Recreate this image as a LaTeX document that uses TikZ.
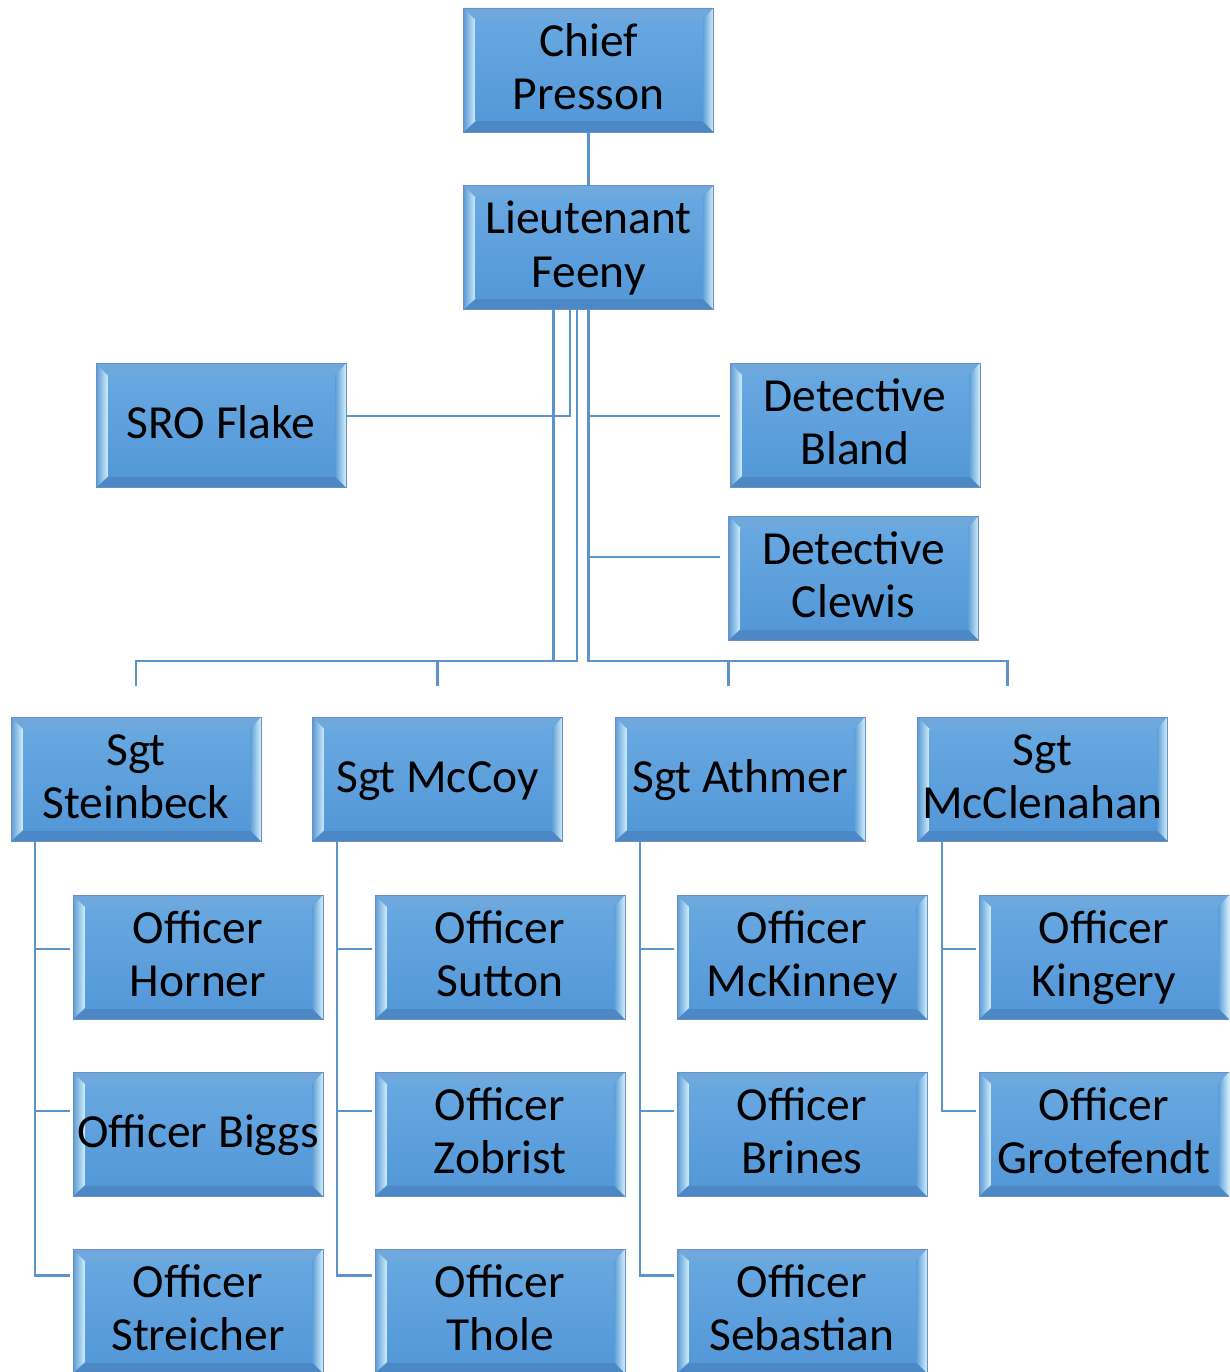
\documentclass[tikz,border=0pt]{standalone}
\usepackage{fontspec}
\setmainfont{Carlito}
\usetikzlibrary{calc}
\definecolor{bmid}{HTML}{5B9BD5}
\definecolor{btop}{HTML}{6FA8DD}
\definecolor{bbot}{HTML}{4C88C6}
\definecolor{bhi}{HTML}{D2EFFB}
\definecolor{bface1}{HTML}{68A8E1}
\definecolor{bface2}{HTML}{5498D8}
\definecolor{bline}{HTML}{6B8FC0}
\definecolor{conncol}{HTML}{5B93CD}
\newcommand\strA{\rule{0pt}{36pt}}
\newcommand\strB{\rule[-10pt]{0pt}{10pt}}
\tikzset{
 bev/.style={rectangle, minimum width=250pt, minimum height=124pt, inner sep=0pt, outer sep=0pt,
  fill=bmid, draw=bline, line width=0.9pt, align=center,
  font=\fontsize{47.5}{53}\selectfont, text=black,
  path picture={
   \coordinate (bvSW) at (path picture bounding box.south west);
   \coordinate (bvNE) at (path picture bounding box.north east);
   \coordinate (bvNW) at (bvSW |- bvNE);
   \coordinate (bvSE) at (bvNE |- bvSW);
   \coordinate (ivSW) at ($(bvSW)+(12pt,11pt)$);
   \coordinate (ivNE) at ($(bvNE)+(-11pt,-12pt)$);
   \coordinate (ivNW) at (ivSW |- ivNE);
   \coordinate (ivSE) at (ivNE |- ivSW);
   \fill[btop] (bvNW) -- (bvNE) -- (ivNE) -- (ivNW) -- cycle;
   \fill[bbot] (bvSW) -- (bvSE) -- (ivSE) -- (ivSW) -- cycle;
   \fill[left color=bmid, right color=bhi] (bvSW) -- (bvNW) -- (ivNW) -- (ivSW) -- cycle;
   \fill[left color=bmid, right color=bhi] (bvSE) -- (bvNE) -- (ivNE) -- (ivSE) -- cycle;
   \fill[top color=bface1, bottom color=bface2] (ivSW) rectangle (ivNE);
  }},
 conn/.style={draw=conncol, line width=2.8pt}
}
\begin{document}
\begin{tikzpicture}[x=1pt,y=-1pt]
\useasboundingbox (0,0) rectangle (1229,1372);
\clip (0,0) rectangle (1229,1372);
% top
\node[bev] (chief) at (588.5,70) {\strA Chief\\Presson\strB};
\node[bev] (lt) at (588.5,247.5) {\strA Lieutenant\\Feeny\strB};
\node[bev] (sro) at (221,425.5) {\strA SRO Flake\strB};
\node[bev] (bland) at (855,425) {\strA Detective\\Bland\strB};
\node[bev] (clewis) at (853.5,578) {\strA Detective\\Clewis\strB};
% sergeants
\node[bev] (sgtA) at (136,779) {\strA Sgt\\Steinbeck\strB};
\node[bev] (sgtB) at (437.5,779) {\strA Sgt McCoy\strB};
\node[bev] (sgtC) at (740,779) {\strA Sgt Athmer\strB};
\node[bev] (sgtD) at (1042.5,779) {\strA Sgt\\McClenahan\strB};
% officers
\node[bev] (horner) at (198,957) {\strA Officer\\Horner\strB};
\node[bev] (biggs) at (198,1134) {\strA Officer Biggs\strB};
\node[bev] (streicher) at (198,1311) {\strA Officer\\Streicher\strB};
\node[bev] (sutton) at (500,957) {\strA Officer\\Sutton\strB};
\node[bev] (zobrist) at (500,1134) {\strA Officer\\Zobrist\strB};
\node[bev] (thole) at (500,1311) {\strA Officer\\Thole\strB};
\node[bev] (mckinney) at (802,957) {\strA Officer\\McKinney\strB};
\node[bev] (brines) at (802,1134) {\strA Officer\\Brines\strB};
\node[bev] (sebastian) at (802,1311) {\strA Officer\\Sebastian\strB};
\node[bev] (kingery) at (1104,957) {\strA Officer\\Kingery\strB};
\node[bev] (grotefendt) at (1104,1134) {\strA Officer\\Grotefendt\strB};
% connectors
\draw[conn] (chief.south) -- (lt.north);
\draw[conn] ([xshift=-18.5pt]lt.south) |- ([yshift=9.5pt]sro.east);
\draw[conn] (lt.south) |- ([xshift=-10pt,yshift=9pt]bland.west);
\draw[conn] (lt.south) |- ([xshift=-9pt,yshift=21pt]clewis.west);
\draw[conn] ([xshift=-35pt]lt.south) |- ([yshift=56pt]sgtA.north) -- ([yshift=31pt]sgtA.north);
\draw[conn] ([xshift=-11.5pt]lt.south) |- ([yshift=56pt]sgtB.north) -- ([yshift=31pt]sgtB.north);
\draw[conn] (lt.south) |- ([xshift=-11.5pt,yshift=56pt]sgtC.north) -- ([xshift=-11.5pt,yshift=31pt]sgtC.north);
\draw[conn] (lt.south) |- ([xshift=-35pt,yshift=56pt]sgtD.north) -- ([xshift=-35pt,yshift=31pt]sgtD.north);
% sergeant to officers
\draw[conn] ([xshift=-101pt]sgtA.south) |- ([xshift=-3pt,yshift=8pt]horner.west);
\draw[conn] ([xshift=-101pt]sgtA.south) |- ([xshift=-3pt,yshift=23pt]biggs.west);
\draw[conn] ([xshift=-101pt]sgtA.south) |- ([xshift=-3pt,yshift=35.5pt]streicher.west);
\draw[conn] ([xshift=-100.5pt]sgtB.south) |- ([xshift=-3pt,yshift=8pt]sutton.west);
\draw[conn] ([xshift=-100.5pt]sgtB.south) |- ([xshift=-3pt,yshift=23pt]zobrist.west);
\draw[conn] ([xshift=-100.5pt]sgtB.south) |- ([xshift=-3pt,yshift=35.5pt]thole.west);
\draw[conn] ([xshift=-100pt]sgtC.south) |- ([xshift=-3pt,yshift=8pt]mckinney.west);
\draw[conn] ([xshift=-100pt]sgtC.south) |- ([xshift=-3pt,yshift=23pt]brines.west);
\draw[conn] ([xshift=-100pt]sgtC.south) |- ([xshift=-3pt,yshift=35.5pt]sebastian.west);
\draw[conn] ([xshift=-100.5pt]sgtD.south) |- ([xshift=-3pt,yshift=8pt]kingery.west);
\draw[conn] ([xshift=-100.5pt]sgtD.south) |- ([xshift=-3pt,yshift=23pt]grotefendt.west);
\end{tikzpicture}
\end{document}
